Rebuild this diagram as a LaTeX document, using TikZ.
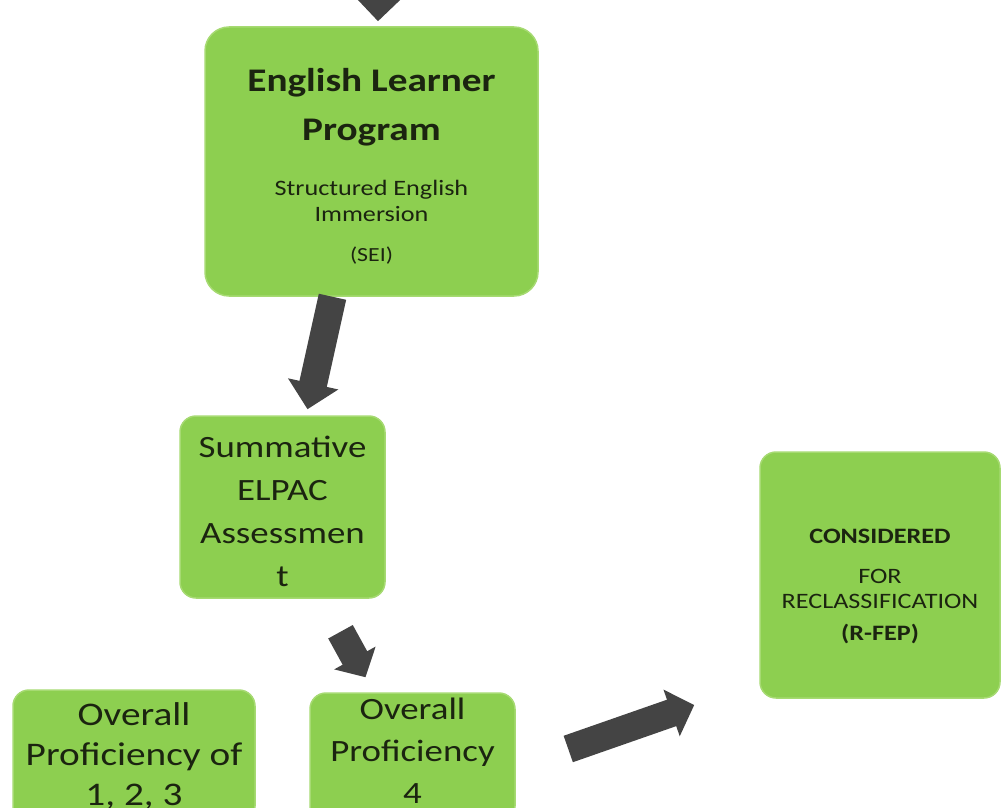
\documentclass[tikz,border=0pt]{standalone}
\usepackage{fontspec}
\setmainfont{Carlito}[FakeStretch=1.19]
\usetikzlibrary{arrows.meta,calc}
\definecolor{boxgreen}{HTML}{8DCF50}
\definecolor{boxedge}{HTML}{A6DA72}
\definecolor{arrowgrey}{HTML}{444444}
\definecolor{inkdark}{HTML}{1B2410}
\begin{document}
\begin{tikzpicture}[x=1pt, y=-1pt,
        stage/.style = {fill = boxgreen, draw = boxedge, line width = 1.5pt,
            rounded corners = 16pt, align = center, text = inkdark, inner sep = 0pt},
        bigarrow/.style = {draw = arrowgrey, line width = 28pt,
            -{Triangle[length = 24pt, width = 48pt]}},
    ]
    \useasboundingbox (0, 0) rectangle (1002, 808);
    \clip (0, 0) rectangle (1002, 808);

    \node [stage, rounded corners = 24pt, minimum width = 333pt, minimum height = 269pt,
            font = \fontsize{20}{22}\selectfont]
        (elp) at (371.5, 161.5)
        {\rule{0pt}{32pt}\fontsize{33}{22}\selectfont\bfseries English Learner\\[21pt]
         \fontsize{33}{22}\selectfont\bfseries Program\\[33pt]
         \fontsize{22}{22}\selectfont Structured English\\[4pt]
         \fontsize{22}{22}\selectfont Immersion\\[18pt]
         (SEI)};

    \node [stage, minimum width = 205pt, minimum height = 182pt,
            font = \fontsize{31}{43}\selectfont]
        (sum) at (282.5, 507)
        {\rule{0pt}{31pt}Summative\\ELPAC\\Assessmen\\t};

    \node [stage, minimum width = 242pt, minimum height = 132pt,
            font = \fontsize{33}{40}\selectfont]
        (low) at (134, 756)
        {Overall\\Proficiency of\\1, 2, 3};

    \node [stage, minimum width = 205pt, minimum height = 129pt,
            font = \fontsize{31}{42}\selectfont]
        (four) at (412.5, 757.5)
        {Overall\\Proficiency\\4\rule[-13pt]{0pt}{13pt}};

    \node [stage, minimum width = 240pt, minimum height = 246pt,
            font = \fontsize{22}{25}\selectfont]
        (rfep) at (880, 575)
        {\rule{0pt}{38pt}\bfseries CONSIDERED\\[15pt]
         FOR\\RECLASSIFICATION\\[7pt]
         \bfseries (R-FEP)};

    % block arrows
    \coordinate (above) at (380, -60);
    \draw [bigarrow, -{Triangle[length = 26pt, width = 50pt]}]
        (above) -- ([xshift = 6.5pt, yshift = 5pt]elp.north);
    \draw [bigarrow, -{Triangle[length = 26pt, width = 50pt]}]
        ([xshift = -39pt]elp.south) -- ([xshift = 25pt, yshift = 6pt]sum.north);
    \draw [bigarrow, -{Triangle[length = 22pt, width = 46pt]}]
        ([xshift = 58pt, yshift = -33pt]sum.south) -- ([xshift = -47pt, yshift = 15pt]four.north);
    \draw [bigarrow]
        ([xshift = 52.5pt, yshift = 8.5pt]four.east) -- ([xshift = -65pt, yshift = -130pt]rfep.west);
\end{tikzpicture}
\end{document}
